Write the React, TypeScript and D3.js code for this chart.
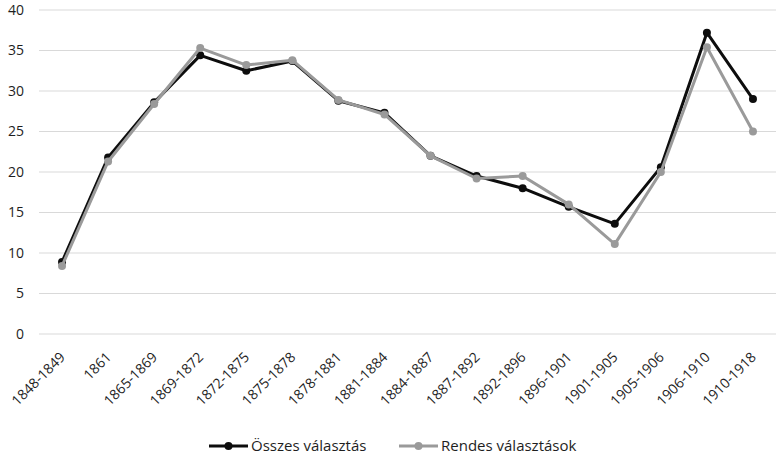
import { useRef, useEffect } from 'react';
import * as d3 from 'd3';

const periods = [
  '1848-1849', '1861', '1865-1869', '1869-1872', '1872-1875', '1875-1878', '1878-1881', '1881-1884',
  '1884-1887', '1887-1892', '1892-1896', '1896-1901', '1901-1905', '1905-1906', '1906-1910', '1910-1918',
];
const osszes = [8.9, 21.8, 28.6, 34.4, 32.5, 33.7, 28.8, 27.3, 22.0, 19.5, 18.0, 15.7, 13.6, 20.6, 37.2, 29.0];
const rendes = [8.4, 21.3, 28.4, 35.3, 33.2, 33.8, 28.9, 27.1, 22.0, 19.2, 19.5, 16.0, 11.1, 20.0, 35.4, 25.0];
const yTicks = [0, 5, 10, 15, 20, 25, 30, 35, 40];

const seriesList = [
  { name: 'Összes választás', values: osszes, color: '#0d0d0d' },
  { name: 'Rendes választások', values: rendes, color: '#9a9a9a' },
];

const W = 782;
const H = 460;
const PLOT = { left: 39, right: 776, top: 10, bottom: 334 };
const FONT = '"Open Sans", "Liberation Sans", sans-serif';
const TEXT = '#1e1e1e';

export default function App() {
  const svgRef = useRef<SVGSVGElement>(null);

  useEffect(() => {
    const svg = svgRef.current;
    if (!svg) return;
    const root = d3.select(svg);
    root.selectAll('*').remove();

    const x = d3.scaleBand().domain(periods).range([PLOT.left, PLOT.right]);
    const cx = (p: string) => x(p)! + x.bandwidth() / 2;
    const y = d3.scaleLinear().domain([0, 40]).range([PLOT.bottom, PLOT.top]);

    // Grid
    root.append('g').selectAll('line').data(yTicks).join('line')
      .attr('x1', PLOT.left).attr('x2', PLOT.right)
      .attr('y1', d => y(d)).attr('y2', d => y(d))
      .attr('stroke', '#d9d9d9').attr('stroke-width', 1.2);

    // Y labels
    root.append('g').selectAll('text').data(yTicks).join('text')
      .attr('x', 24).attr('y', d => y(d)).attr('dy', '0.35em')
      .attr('text-anchor', 'end').attr('fill', TEXT)
      .attr('font-family', FONT).attr('font-size', 14).text(d => d);

    // X labels
    root.append('g').selectAll('text').data(periods).join('text')
      .attr('transform', d => `translate(${cx(d) + 4},${PLOT.bottom + 24}) rotate(-45)`)
      .attr('text-anchor', 'end').attr('fill', TEXT)
      .attr('font-family', FONT).attr('font-size', 14).text(d => d);

    // Lines
    const line = d3.line<number>().x((_, i) => cx(periods[i])).y(d => y(d));
    seriesList.forEach(s => {
      const g = root.append('g');
      g.append('path').attr('d', line(s.values)).attr('fill', 'none')
        .attr('stroke', s.color).attr('stroke-width', 3).attr('stroke-linejoin', 'round');
      g.selectAll('circle').data(s.values).join('circle')
        .attr('cx', (_, i) => cx(periods[i])).attr('cy', d => y(d))
        .attr('r', 4).attr('fill', s.color);
    });

    // Legend
    const legendX = [209, 399];
    seriesList.forEach((s, i) => {
      const g = root.append('g').attr('transform', `translate(${legendX[i]},446)`);
      g.append('line').attr('x1', 0).attr('x2', 39).attr('y1', 0).attr('y2', 0)
        .attr('stroke', s.color).attr('stroke-width', 3);
      g.append('circle').attr('cx', 19.5).attr('cy', 0).attr('r', 4).attr('fill', s.color);
      g.append('text').attr('x', 42).attr('y', 0).attr('dy', '0.35em')
        .attr('fill', TEXT).attr('font-family', FONT).attr('font-size', 15).text(s.name);
    });
  }, []);

  return (
    <svg ref={svgRef} width={W} height={H}
      style={{ position: 'absolute', left: 0, top: 0, background: '#fff' }} />
  );
}
